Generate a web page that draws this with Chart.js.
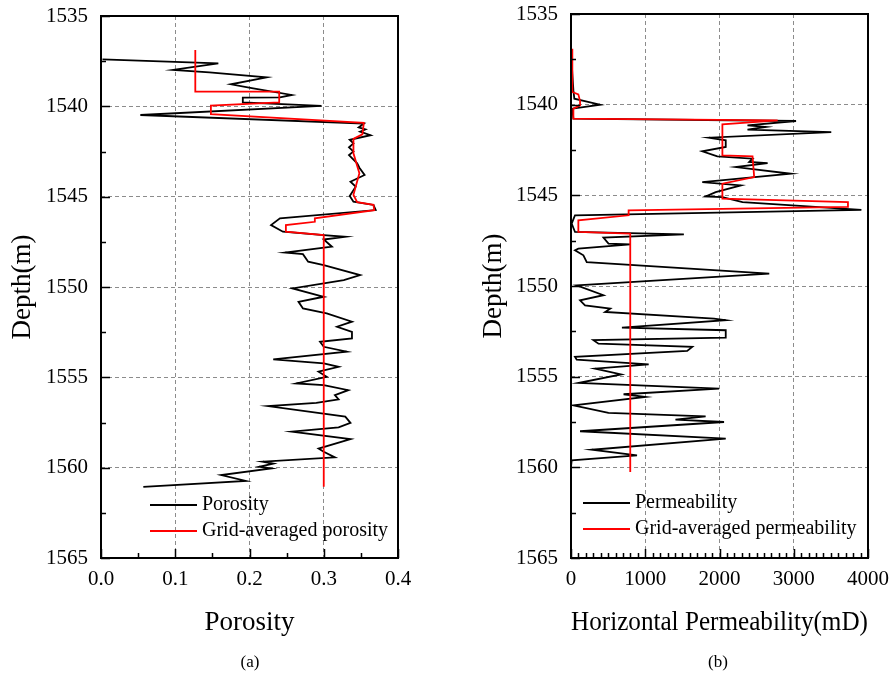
<!DOCTYPE html>
<html>
<head>
<meta charset="utf-8">
<script src="https://cdn.jsdelivr.net/npm/chart.js@4.4.1/dist/chart.umd.min.js"></script>
<style>
  html, body { margin: 0; padding: 0; background: #fff; }
  #wrap { position: relative; width: 896px; height: 683px; overflow: hidden; }
  canvas { position: absolute; top: 0; }
  #c1 { left: 0; }
  #c2 { left: 448px; }
  .tag { position: absolute; top: 652px; width: 60px; text-align: center;
         font: 17px 'Liberation Serif', 'Times New Roman', serif; color: #000; }
</style>
</head>
<body>
<div id="wrap">
  <canvas id="c1" width="448" height="683"></canvas>
  <canvas id="c2" width="448" height="683"></canvas>
  <div class="tag" style="left:220px">(a)</div>
  <div class="tag" style="left:688px">(b)</div>
</div>
<script>
/* ===== 데이터 ===== */

// 공통 깊이 눈금
const depthTicks = [1535, 1540, 1545, 1550, 1555, 1560, 1565];

// (a) 공극률
const poroTicks = [0, 0.1, 0.2, 0.3, 0.4];
const poroTickLabels = ["0.0", "0.1", "0.2", "0.3", "0.4"];

const poroDepth = [
  1537.40, 1537.62, 1537.98, 1538.12, 1538.40, 1538.78, 1539.00, 1539.37, 1539.50, 1539.52,
  1539.78, 1539.98, 1540.48, 1540.95, 1541.17, 1541.28, 1541.40, 1541.60, 1541.85, 1542.05,
  1542.27, 1542.50, 1542.70, 1543.15, 1543.40, 1543.80, 1544.17, 1544.45, 1544.96, 1545.28,
  1545.46, 1545.74, 1546.20, 1546.57, 1546.94, 1547.13, 1547.22, 1547.37, 1547.77, 1548.09,
  1548.18, 1548.60, 1548.79, 1549.34, 1549.62, 1550.08, 1550.54, 1550.82, 1551.19, 1551.46,
  1551.92, 1552.20, 1552.48, 1552.85, 1553.03, 1553.31, 1553.58, 1554.01, 1554.23, 1554.42,
  1554.69, 1554.97, 1555.34, 1555.43, 1555.71, 1555.98, 1556.22, 1556.41, 1556.59, 1557.18,
  1557.52, 1557.77, 1558.01, 1558.42, 1558.94, 1559.12, 1559.43, 1559.67, 1559.77, 1559.95,
  1560.04, 1560.41, 1560.73, 1561.06
];
const poroValue = [
  0.002, 0.158, 0.097, 0.146, 0.223, 0.175, 0.205, 0.257, 0.241, 0.191,
  0.191, 0.297, 0.053, 0.354, 0.347, 0.356, 0.349, 0.363, 0.335, 0.340,
  0.334, 0.340, 0.334, 0.345, 0.348, 0.355, 0.336, 0.343, 0.335, 0.340,
  0.367, 0.370, 0.241, 0.229, 0.245, 0.300, 0.329, 0.300, 0.311, 0.248,
  0.272, 0.279, 0.300, 0.349, 0.327, 0.258, 0.300, 0.266, 0.272, 0.304,
  0.338, 0.318, 0.338, 0.338, 0.295, 0.300, 0.331, 0.232, 0.300, 0.320,
  0.293, 0.304, 0.263, 0.300, 0.333, 0.315, 0.320, 0.290, 0.225, 0.329,
  0.336, 0.320, 0.257, 0.336, 0.293, 0.300, 0.315, 0.218, 0.232, 0.213,
  0.229, 0.162, 0.195, 0.057
];

const poroAvgDepth = [
  1536.88, 1539.19, 1539.19, 1539.78, 1539.96, 1540.43, 1540.91, 1541.55, 1541.80, 1542.60,
  1543.70, 1544.90, 1545.30, 1545.45, 1545.75, 1546.20, 1546.39, 1546.57, 1546.94, 1547.13,
  1561.06
];
const poroAvgValue = [
  0.127, 0.127, 0.240, 0.240, 0.148, 0.148, 0.354, 0.352, 0.340, 0.340,
  0.348, 0.340, 0.345, 0.367, 0.368, 0.288, 0.288, 0.249, 0.249, 0.300,
  0.300
];

// (b) 수평 투과율
const permTicks = [0, 1000, 2000, 3000, 4000];
const permTickLabels = ["0", "1000", "2000", "3000", "4000"];

const permDepth = [
  1536.91, 1538.30, 1539.20, 1539.67, 1540.00, 1540.22, 1540.77, 1540.90, 1541.14, 1541.23,
  1541.38, 1541.51, 1541.82, 1541.97, 1542.33, 1542.57, 1542.85, 1542.98, 1543.16, 1543.22,
  1543.44, 1543.81, 1544.27, 1544.45, 1544.82, 1545.06, 1545.10, 1545.38, 1545.80, 1546.10,
  1546.56, 1547.02, 1547.15, 1547.33, 1547.66, 1547.70, 1547.94, 1548.03, 1548.31, 1548.68,
  1549.32, 1549.96, 1550.51, 1550.79, 1551.07, 1551.25, 1551.43, 1551.80, 1551.89, 1552.30,
  1552.44, 1552.85, 1552.99, 1553.18, 1553.36, 1553.58, 1553.91, 1554.06, 1554.32, 1554.56,
  1554.88, 1555.35, 1555.66, 1555.97, 1556.12, 1556.58, 1557.00, 1557.19, 1557.37, 1557.50,
  1558.01, 1558.42, 1559.03, 1559.34, 1559.61, 1559.98
];
const permValue = [
  0, 18, 32, 45, 392, 18, 32, 3031, 2377, 2625,
  2377, 3505, 1858, 2084, 2084, 1768, 1971, 2445, 2400, 2648,
  2219, 2963, 1768, 2287, 1949, 1813, 2039, 2310, 3911, 54,
  9, 54, 1520, 437, 505, 798, 99, 54, 167, 212,
  2670, 77, 437, 122, 189, 528, 460, 1926, 2084, 686,
  2084, 2084, 302, 370, 1633, 1565, 54, 77, 1046, 325,
  675, 99, 1994, 708, 1001, 32, 505, 1813, 1407, 2061,
  122, 2084, 280, 889, 9, 0
];

const permAvgDepth = [
  1536.91, 1539.30, 1539.43, 1539.80, 1540.04, 1540.22, 1540.77, 1540.87, 1541.09, 1542.80,
  1542.85, 1543.99, 1544.36, 1545.18, 1545.37, 1545.64, 1545.83, 1546.10, 1546.38, 1547.02,
  1547.11, 1560.26
];
const permAvgValue = [
  18, 18, 99, 122, 122, 32, 32, 2783, 2039, 2039,
  2445, 2467, 2039, 2039, 3730, 3730, 776, 776, 99, 99,
  798, 798
];

/* ===== 공통 설정 ===== */
Chart.defaults.font.family = "'Liberation Serif', 'Times New Roman', serif";
Chart.defaults.color = "#000";

const pts = (depths, vals) => depths.map((d, i) => ({ x: vals[i], y: d }));

// 축 테두리 + 안쪽으로 향한 눈금
const frameTicks = {
  id: "frameTicks",
  afterDraw(chart, args, o) {
    const { ctx, chartArea: a, scales: { x, y } } = chart;
    ctx.save();
    ctx.strokeStyle = "#000";
    ctx.lineWidth = 1.5;
    ctx.beginPath();
    for (let v = x.min; v <= x.max + 1e-9; v += o.xMinor) {
      const major = Math.abs(v / o.xMajor - Math.round(v / o.xMajor)) < 1e-6;
      const px = Math.round(x.getPixelForValue(v)) + 0.5;
      ctx.moveTo(px, a.bottom);
      ctx.lineTo(px, a.bottom - (major ? 9 : 5));
    }
    for (let v = y.min; v <= y.max + 1e-9; v += 2.5) {
      const major = v % 5 === 0;
      const py = Math.round(y.getPixelForValue(v)) + 0.5;
      ctx.moveTo(a.left, py);
      ctx.lineTo(a.left + (major ? 9 : 5), py);
    }
    ctx.stroke();
    ctx.lineWidth = 2;
    ctx.strokeRect(a.left, a.top, a.right - a.left, a.bottom - a.top);
    ctx.restore();
  }
};

// 그림 안쪽 하단 범례
const innerLegend = {
  id: "innerLegend",
  afterDraw(chart, args, o) {
    const { ctx } = chart;
    ctx.save();
    ctx.font = "20px 'Liberation Serif', 'Times New Roman', serif";
    ctx.textBaseline = "middle";
    ctx.fillStyle = "#000";
    chart.data.datasets.forEach((ds, i) => {
      const yy = o.y + i * o.gap;
      ctx.strokeStyle = ds.borderColor;
      ctx.lineWidth = 2;
      ctx.beginPath();
      ctx.moveTo(o.x, yy);
      ctx.lineTo(o.x + 47, yy);
      ctx.stroke();
      ctx.fillText(ds.label, o.x + 52, yy);
    });
    ctx.restore();
  }
};

function makeChart(el, cfg) {
  return new Chart(document.getElementById(el), {
    type: "scatter",
    data: {
      datasets: [
        { label: cfg.label, data: cfg.black, borderColor: "#000", order: 1 },
        { label: cfg.avgLabel, data: cfg.red, borderColor: "#ff0000", order: 0 }
      ].map(d => ({ ...d, showLine: true, pointRadius: 0, borderWidth: 1.8, tension: 0 }))
    },
    options: {
      responsive: false,
      animation: false,
      events: [],
      layout: { padding: { top: cfg.top, right: cfg.right, left: 0, bottom: 0 } },
      plugins: {
        legend: { display: false },
        tooltip: { enabled: false },
        frameTicks: { xMinor: cfg.xMinor, xMajor: cfg.xMajor },
        innerLegend: { x: cfg.legX, y: cfg.legY, gap: 26 }
      },
      scales: {
        x: {
          type: "linear", min: cfg.xTicks[0], max: cfg.xTicks[cfg.xTicks.length - 1],
          afterBuildTicks: s => { s.ticks = cfg.xTicks.map(v => ({ value: v })); },
          afterFit: s => { s.height = 125; s.paddingLeft = 0; s.paddingRight = 0; },
          ticks: { autoSkip: false, maxRotation: 0, padding: 9, font: { size: 21 },
                   callback: (v, i) => cfg.xLabels[i] },
          grid: { color: "#8c8c8c", lineWidth: 1, drawTicks: false },
          border: { display: false, dash: [4, 3] },
          title: { display: true, text: cfg.xTitle, font: { size: 27 }, padding: { top: 0, bottom: 44 } }
        },
        y: {
          type: "linear", reverse: true, min: 1535, max: 1565,
          afterBuildTicks: s => { s.ticks = depthTicks.map(v => ({ value: v })); },
          afterFit: s => { s.width = cfg.yWidth; s.paddingTop = 0; s.paddingBottom = 0; },
          ticks: { autoSkip: false, padding: 13, font: { size: 21 },
                   callback: (v, i) => String(depthTicks[i]) },
          grid: { color: "#8c8c8c", lineWidth: 1, drawTicks: false },
          border: { display: false, dash: [4, 3] },
          title: { display: true, text: "Depth(m)", font: { size: 27 }, padding: { top: cfg.yTitlePad, bottom: 0 } }
        }
      }
    },
    plugins: [frameTicks, innerLegend]
  });
}

makeChart("c1", {
  label: "Porosity", avgLabel: "Grid-averaged porosity",
  black: pts(poroDepth, poroValue), red: pts(poroAvgDepth, poroAvgValue),
  xTicks: poroTicks, xLabels: poroTickLabels, xTitle: "Porosity",
  xMinor: 0.05, xMajor: 0.1,
  top: 16, right: 50, yWidth: 101, yTitlePad: 7,
  legX: 150, legY: 505
});

makeChart("c2", {
  label: "Permeability", avgLabel: "Grid-averaged permeability",
  black: pts(permDepth, permValue), red: pts(permAvgDepth, permAvgValue),
  xTicks: permTicks, xLabels: permTickLabels, xTitle: "Horizontal Permeability(mD)",
  xMinor: 100, xMajor: 1000,
  top: 14, right: 28, yWidth: 123, yTitlePad: 30,
  legX: 135, legY: 503
});
</script>
</body>
</html>
